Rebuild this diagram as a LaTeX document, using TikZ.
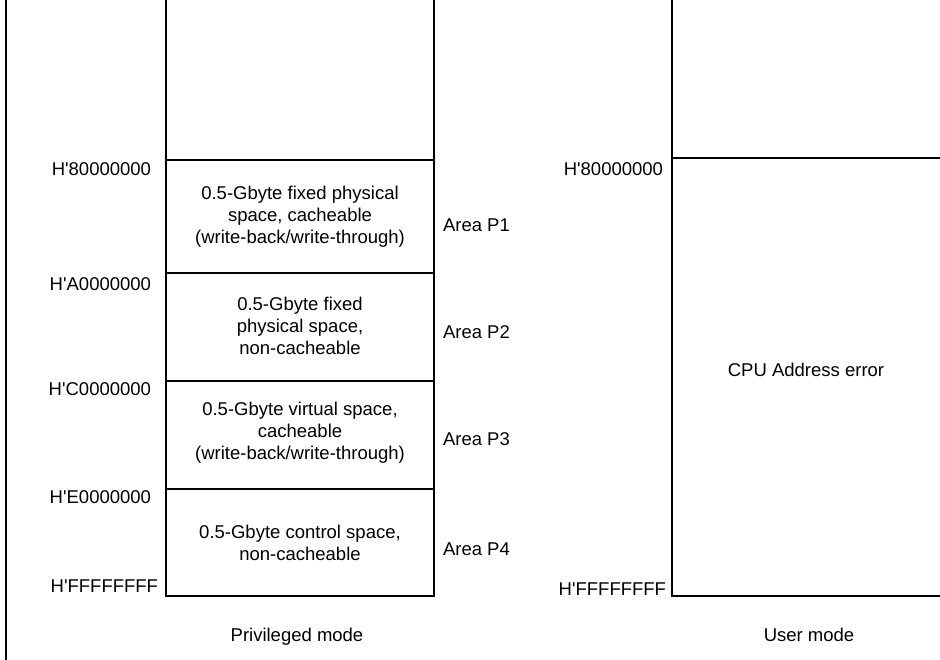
\documentclass[tikz,border=0pt]{standalone}
\usepackage{fontspec}
\setmainfont{Liberation Sans}
\usetikzlibrary{calc}

\newcommand\hq{H\textquotesingle}

\begin{document}
\begin{tikzpicture}[x=1pt, y=-1pt, line width=2pt,
    every node/.style={font=\fontsize{18.5}{22}\selectfont, inner sep=0pt},
    addr/.style={anchor=east},
    area/.style={anchor=west},
    region/.style={align=center}]

    \useasboundingbox (0,0) rectangle (940,660);

    % 1. Eckpunkte der beiden Adressraeume
    \coordinate (PTL) at (166,0);
    \coordinate (PTR) at (434,0);
    \coordinate (PBL) at (166,596);
    \coordinate (PBR) at (434,596);
    \coordinate (UTL) at (672,0);
    \coordinate (UBL) at (672,596);
    \coordinate (UBR) at (940,596);

    % 2. Rahmen links und Spalten
    \draw (6,0) -- (6,660);
    \draw (PTL) -- (PBL) -- (PBR) -- (PTR);
    \draw (UTL) -- (UBL) -- (UBR);

    % Grenzen der Bereiche P1 bis P4
    \foreach \y in {160,273,381,489}
        \draw (PTL |- 0,\y) -- (PTR |- 0,\y);
    \draw (UTL |- 0,158) -- (940,158);

    % 3. Adressen
    \node[addr] (a80) at (152,169.5) {\hq 80000000};
    \node[addr] (aA0) at (152,284) {\hq A0000000};
    \node[addr] (aC0) at (152,389) {\hq C0000000};
    \node[addr] (aE0) at (152,497) {\hq E0000000};
    \node[addr] (aFF) at (159,586) {\hq FFFFFFFF};
    \node[addr] (u80) at (664,169) {\hq 80000000};
    \node[addr] (uFF) at (667,589) {\hq FFFFFFFF};

    % 4. Inhalt der Bereiche
    \node[region] (p1) at (300,216.5) {0.5-Gbyte fixed physical\\space, cacheable\\(write-back/write-through)};
    \node[region] (p2) at (300,326) {0.5-Gbyte fixed\\physical space,\\non-cacheable};
    \node[region] (p3) at (300,433) {0.5-Gbyte virtual space,\\cacheable\\(write-back/write-through)};
    \node[region] (p4) at (300,542.5) {0.5-Gbyte control space,\\non-cacheable};
    \node (err) at (806,370) {CPU Address error};

    % Namen der Bereiche
    \node[area] (n1) at (442,225) {Area P1};
    \node[area] (n2) at (442,332) {Area P2};
    \node[area] (n3) at (442,439) {Area P3};
    \node[area] (n4) at (442,549) {Area P4};

    % 5. Modi
    \node[anchor=base] (priv) at (297,641) {Privileged mode};
    \node[anchor=base] (user) at (809,641) {User mode};

\end{tikzpicture}
\end{document}
